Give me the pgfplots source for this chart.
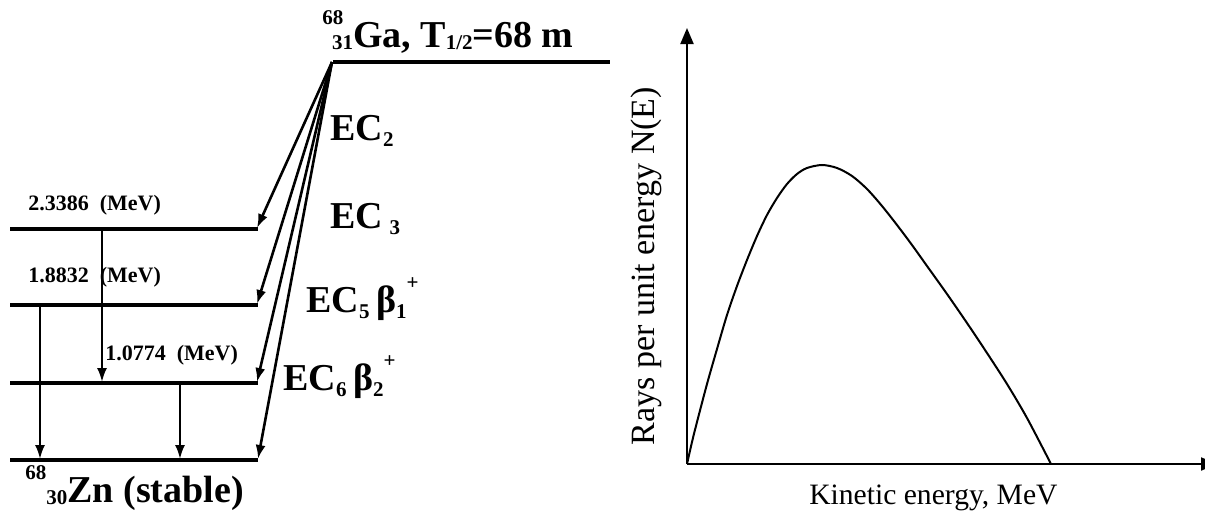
\documentclass[border=0pt]{standalone}
\usepackage{fontspec}
\setmainfont{Liberation Serif}
\usepackage{pgfplots}
\pgfplotsset{compat=1.18}
\usetikzlibrary{arrows.meta}

% big bold labels of the decay scheme
\newcommand\bfbig{\bfseries\fontsize{19}{21}\selectfont}
\newcommand\sm[1]{{\fontsize{10.5}{12}\selectfont #1}}
\newcommand\lo[1]{\raisebox{-0.06em}{\sm{#1}}}
\newcommand\dn[1]{\raisebox{-0.18em}{\sm{#1}}}
\newcommand\hi[1]{\raisebox{0.6em}{\sm{#1}}}

\begin{document}
\begin{tikzpicture}
\useasboundingbox (0pt,0pt) rectangle (602.5pt,255pt);

% left: decay scheme, drawn in pixel units (1 px = 0.5 pt), y measured upward
\begin{axis}[
    at={(0pt,0pt)}, anchor=south west,
    scale only axis, width=602.5pt, height=255pt,
    xmin=0, xmax=1205, ymin=0, ymax=510,
    hide axis, clip=false,
    level/.style={line width=1.6pt, no marks},
    ec/.style={line width=1.3pt, no marks, -{Latex[length=7pt,width=5pt]}},
    gam/.style={line width=1.1pt, no marks, -{Latex[length=7pt,width=5pt]}},
]
% levels
\addplot[level] coordinates {(333,448) (610,448)};
\addplot[level] coordinates {(10,281) (258,281)};
\addplot[level] coordinates {(10,205) (258,205)};
\addplot[level] coordinates {(10,127) (258,127)};
\addplot[level] coordinates {(10,50) (258,50)};
% EC / beta+ branches from the parent level
\addplot[ec] coordinates {(332,448) (257,282)};
\addplot[ec] coordinates {(332,448) (257,206)};
\addplot[ec] coordinates {(332,448) (257,128)};
\addplot[ec] coordinates {(332,448) (258,51)};
% gamma transitions
\addplot[gam] coordinates {(102,281) (102,128)};
\addplot[gam] coordinates {(40,205) (40,51)};
\addplot[gam] coordinates {(180,127) (180,51)};

% texts
\node[anchor=base west, font=\bfbig, inner sep=0pt] at (axis cs:322,463)
  {\hi{68}\kern-0.3em\lo{31}Ga, T\lo{1/2}=68 m};
\node[anchor=base west, font=\bfbig, inner sep=0pt] at (axis cs:25,8)
  {\hi{68}\lo{30}Zn (stable)};
\node[anchor=base west, font=\bfbig, inner sep=0pt] at (axis cs:330,370) {EC\dn{2}};
\node[anchor=base west, font=\bfbig, inner sep=0pt] at (axis cs:330,282) {EC\,\dn{3}};
\node[anchor=base west, font=\bfbig, inner sep=0pt] at (axis cs:306,198) {EC\dn{5}\,β\dn{1}\hi{+}};
\node[anchor=base west, font=\bfbig, inner sep=0pt] at (axis cs:283,120) {EC\dn{6}\,β\dn{2}\hi{+}};
\node[anchor=base west, font=\bfseries\fontsize{11}{12}\selectfont, inner sep=0pt]
  at (axis cs:28,300) {2.3386 \ (MeV)};
\node[anchor=base west, font=\bfseries\fontsize{11}{12}\selectfont, inner sep=0pt]
  at (axis cs:28,228) {1.8832 \ (MeV)};
\node[anchor=base west, font=\bfseries\fontsize{11}{12}\selectfont, inner sep=0pt]
  at (axis cs:105,150) {1.0774 \ (MeV)};
\end{axis}

% right: beta spectrum, units are pixel offsets from the origin
\begin{axis}[
    at={(343.5pt,23pt)}, anchor=south west,
    scale only axis, width=265pt, height=218pt,
    xmin=0, xmax=530, ymin=0, ymax=436,
    axis lines=left,
    axis line style={line width=1pt, -{Triangle[length=8pt,width=6.5pt]}},
    xtick=\empty, ytick=\empty,
    xlabel={Kinetic energy, MeV},
    ylabel={Rays per unit energy N(E)},
    x label style={at={(axis description cs:0.465,0)}, anchor=base,
        yshift=-20pt, font=\fontsize{14.8}{16}\selectfont},
    y label style={at={(axis description cs:-0.062,0.454)}, anchor=base,
        font=\fontsize{17}{19}\selectfont},
]
\addplot[black, line width=1pt, smooth, no marks] coordinates {
    (0,0) (5,22) (10,42) (20,80) (30,115) (40,149) (50,178) (60,204)
    (70,228) (80,249) (90,266) (100,280) (110,290) (120,296) (135,299)
    (150,296) (165,288) (180,275) (195,258) (210,239) (225,219)
    (240,198) (260,170) (280,141) (300,111) (320,80) (340,46) (364,0)
};
\end{axis}
\end{tikzpicture}
\end{document}
